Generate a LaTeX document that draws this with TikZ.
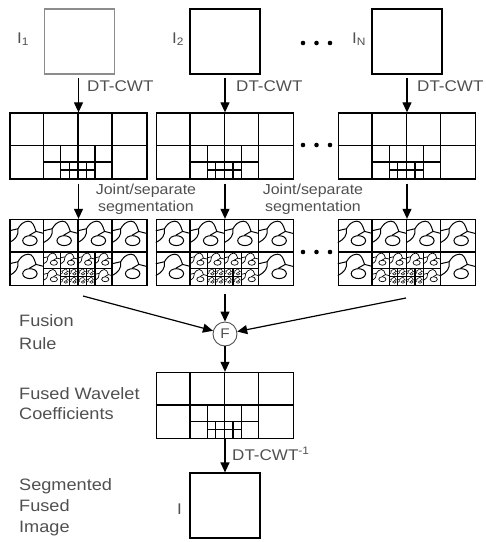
\documentclass[tikz,border=0pt]{standalone}
\usepackage{fontspec}
\setmainfont{Liberation Sans}[FakeStretch=1.1]
\usetikzlibrary{arrows.meta}
\definecolor{txt}{RGB}{80,80,80}
\definecolor{sqgray}{RGB}{140,140,140}
\tikzset{
  img/.style={draw, line width=1.2pt, minimum width=70pt, minimum height=65pt, inner sep=0pt},
  wbox/.style={draw, line width=1.3pt, minimum width=137pt, minimum height=66pt, inner sep=0pt},
  lbl/.style={text=txt, inner sep=0pt, font=\fontsize{15.5}{18}\selectfont},
  seglbl/.style={text=txt, inner sep=0pt, align=center, font=\fontsize{14.5}{17}\selectfont},
  sidelbl/.style={text=txt, inner sep=0pt, align=left, anchor=north west},
  arr/.style={line width=1.2pt, -{Triangle[length=10pt,width=9pt]}},
  gline/.style={line width=1.3pt},
  fuse/.style={circle, draw=txt, line width=0.9pt, minimum size=24pt, inner sep=0pt, text=txt, font=\fontsize{14}{16}\selectfont},
  dot/.style={fill=black},
}
\newcommand{\gridlines}[1]{%
  \begin{scope}[shift={(#1.north west)}, x=137pt, y=-66pt]
    \draw[gline] (0.25,0)--(0.25,1) (0.5,0)--(0.5,1) (0.75,0)--(0.75,1) (0,0.5)--(1,0.5);
    \draw[gline] (0.375,0.5)--(0.375,1) (0.625,0.5)--(0.625,1) (0.25,0.75)--(0.75,0.75);
    \draw[gline] (0.4375,0.75)--(0.4375,1) (0.5625,0.75)--(0.5625,1) (0.375,0.875)--(0.625,0.875);
  \end{scope}}
\newcommand{\oneblob}[5]{%
  \begin{scope}[shift={(#1,#2)}, xscale=#3, yscale=#4, line width=#5]
    \draw (0,0.36) -- (0.25,0.3) .. controls (0.32,0.18) and (0.4,0.08) .. (0.55,0.07)
          .. controls (0.68,0.07) and (0.72,0.2) .. (0.78,0.38) -- (1,0.44);
    \draw (0.25,0.3) .. controls (0.28,0.5) and (0.18,0.62) .. (0,0.72);
    \draw (0.78,0.38) .. controls (0.68,0.44) .. (0.58,0.5);
    \draw (0.6,0.66) ellipse [x radius=0.21, y radius=0.15];
  \end{scope}}
\newcommand{\blobs}[1]{%
  \begin{scope}[shift={(#1.north west)}, x=137pt, y=-66pt]
    \foreach \bx/\by in {0/0,0.25/0,0.5/0,0.75/0,0/0.5,0.75/0.5}
      {\oneblob{\bx}{\by}{0.25}{0.5}{1pt}}
    \foreach \bx/\by in {0.25/0.5,0.375/0.5,0.5/0.5,0.625/0.5,0.25/0.75,0.625/0.75}
      {\oneblob{\bx}{\by}{0.125}{0.25}{0.7pt}}
    \foreach \bx in {0.375,0.4375,0.5,0.5625}
      \foreach \by in {0.75,0.875}
        {\oneblob{\bx}{\by}{0.0625}{0.125}{0.5pt}}
  \end{scope}}
\begin{document}
\begin{tikzpicture}[x=1pt, y=-1pt]
\useasboundingbox (0,0) rectangle (486,542);
% input images
\node[img, draw=sqgray] (s1) at (79.5,41.5) {};
\node[img] (s2) at (225,41.5) {};
\node[img] (s3) at (407,41.5) {};
\node[lbl, anchor=base west] (l1) at (17,43) {I\textsubscript{1}};
\node[lbl, anchor=base west] (l2) at (172,43) {I\textsubscript{2}};
\node[lbl, anchor=base west] (l3) at (352,43) {I\textsubscript{N}};
\fill[dot] (303,43) circle (2.3) (316.5,43) circle (2.3) (330,43) circle (2.3);
% wavelet grids
\node[wbox] (w1) at (78.5,146) {};
\node[wbox] (w2) at (225,146) {};
\node[wbox] (w3) at (407,146) {};
\gridlines{w1}\gridlines{w2}\gridlines{w3}
\fill[dot] (303,145) circle (2.3) (316.5,145) circle (2.3) (330,145) circle (2.3);
% segmentation grids
\node[wbox] (g1) at (78.5,252.5) {};
\node[wbox] (g2) at (225,252.5) {};
\node[wbox] (g3) at (407,252.5) {};
\gridlines{g1}\gridlines{g2}\gridlines{g3}
\blobs{g1}\blobs{g2}\blobs{g3}
\fill[dot] (303,252) circle (2.3) (316.5,252) circle (2.3) (330,252) circle (2.3);
% DT-CWT arrows
\draw[arr, shorten <=3pt] (s1.south -| w1.north) -- (w1.north);
\draw[arr, shorten <=3pt] (s2.south -| w2.north) -- (w2.north);
\draw[arr, shorten <=3pt] (s3.south -| w3.north) -- (w3.north);
\node[lbl, anchor=base west] (d1) at (87,91) {DT-CWT};
\node[lbl, anchor=base west] (d2) at (236,91) {DT-CWT};
\node[lbl, anchor=base west] (d3) at (417,91) {DT-CWT};
% segmentation arrows
\draw[arr, shorten <=4pt] (w1.south) -- (g1.north);
\draw[arr, shorten <=4pt] (w2.south) -- (g2.north);
\draw[arr, shorten <=4pt] (w3.south) -- (g3.north);
\node[seglbl, anchor=north] (j1) at (146,184) {Joint/separate\\segmentation};
\node[seglbl, anchor=north] (j2) at (313,184) {Joint/separate\\segmentation};
% fusion
\node[fuse] (F) at (225,334) {F};
\coordinate (fl) at (83,296);
\coordinate (fr) at (406,298);
\draw[arr] (fl) -- (F);
\draw[arr] (fr) -- (F);
\draw[arr, shorten <=8pt] (g2.south) -- (F);
\node[sidelbl, font=\fontsize{16.5}{23}\selectfont] (fr1) at (19,314) {Fusion\\Rule};
% fused coefficients
\node[wbox] (fg) at (225,405.5) {};
\gridlines{fg}
\draw[arr] (F) -- (fg.north);
\node[sidelbl, font=\fontsize{16.5}{20}\selectfont] (fw) at (19,387) {Fused Wavelet\\Coefficients};
% inverse transform
\node[img] (sf) at (225,505.5) {};
\draw[arr] (fg.south) -- (sf.north);
\node[lbl, anchor=base west] (d4) at (232,460) {DT-CWT\textsuperscript{-1}};
\node[lbl, anchor=base west] (l4) at (177,514) {I};
\node[sidelbl, font=\fontsize{16.5}{21}\selectfont] (sfi) at (19,478) {Segmented\\Fused\\Image};
\end{tikzpicture}
\end{document}
